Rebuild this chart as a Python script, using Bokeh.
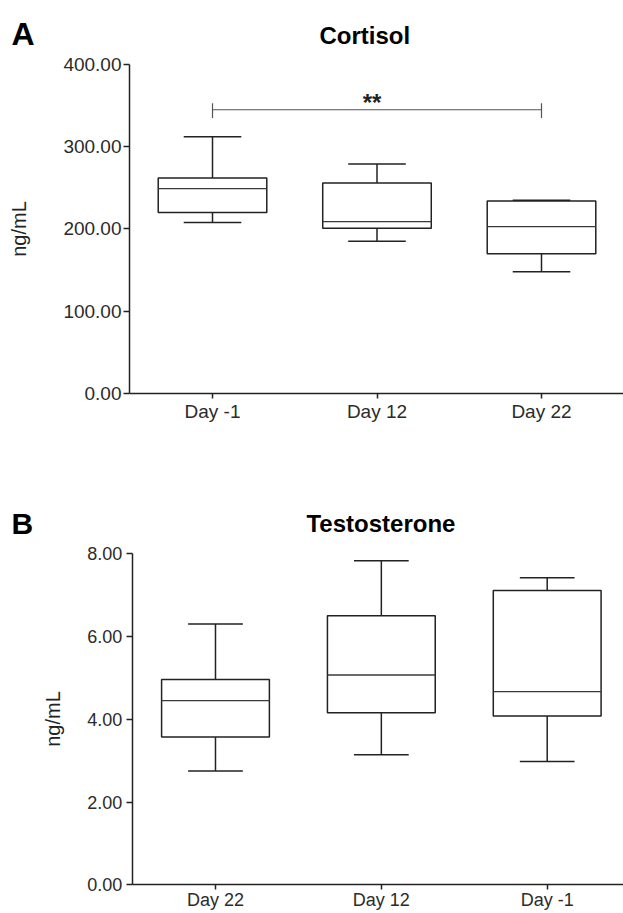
import numpy as np
from bokeh.plotting import figure
from bokeh.layouts import column
from bokeh.models import ColumnDataSource, Range1d, FixedTicker, PrintfTickFormatter
from bokeh.core.properties import value
from bokeh.embed import file_html
from bokeh.resources import INLINE

# ---------------- data ----------------
cortisol_days = ["Day -1", "Day 12", "Day 22"]
cortisol_min = [208, 185, 148]
cortisol_q1 = [220, 201, 170]
cortisol_median = [249, 209, 203]
cortisol_q3 = [262, 256, 234]
cortisol_max = [312, 279, 235]
cortisol_ticks = [0, 100, 200, 300, 400]
cortisol_sig = ["Day -1", "Day 22"]
cortisol_sig_level = 345
cortisol_sig_text = "**"

testosterone_days = ["Day 22", "Day 12", "Day -1"]
testosterone_min = [2.75, 3.14, 2.98]
testosterone_q1 = [3.57, 4.16, 4.08]
testosterone_median = [4.45, 5.07, 4.67]
testosterone_q3 = [4.96, 6.50, 7.11]
testosterone_max = [6.30, 7.83, 7.42]
testosterone_ticks = [0, 2, 4, 6, 8]

panel_letters = ["A", "B"]
panel_titles = ["Cortisol", "Testosterone"]
y_label = "ng/mL"

FONT = "Liberation Sans"
INK = "#222222"
TXT = "#2b2b2b"
W = 623


def make_panel(days, lo, q1, med, q3, hi, ticks, x_range, y_range, height,
               axis_x, box_w, cap_w, tick_font, y_label_standoff, y_tick_standoff,
               x_tick_standoff):
    p = figure(width=W, height=height, x_range=x_range, y_range=y_range,
               output_backend="svg", toolbar_location=None, title=None, min_border=0)
    p.outline_line_color = None
    p.xgrid.visible = False
    p.ygrid.visible = False
    p.background_fill_color = "white"
    p.border_fill_color = "white"

    x = np.arange(len(days), dtype=float)
    src = ColumnDataSource(dict(
        x=x, lo=lo, q1=q1, med=med, q3=q3, hi=hi,
        bl=x - box_w / 2, br=x + box_w / 2,
        cl=x - cap_w / 2, cr=x + cap_w / 2,
    ))
    # whiskers
    p.segment(x0="x", x1="x", y0="q3", y1="hi", source=src, line_color=INK, line_width=1.5)
    p.segment(x0="x", x1="x", y0="q1", y1="lo", source=src, line_color=INK, line_width=1.5)
    p.segment(x0="cl", x1="cr", y0="hi", y1="hi", source=src, line_color=INK, line_width=1.5)
    p.segment(x0="cl", x1="cr", y0="lo", y1="lo", source=src, line_color=INK, line_width=1.5)
    # boxes
    p.quad(left="bl", right="br", bottom="q1", top="q3", source=src,
           fill_color="white", line_color=INK, line_width=1.5)
    # medians
    p.segment(x0="bl", x1="br", y0="med", y1="med", source=src, line_color="#3a3a3a", line_width=1.3)

    # axes (drawn at fixed locations inside a full-canvas frame)
    for ax in (p.xaxis[0], p.yaxis[0]):
        ax.axis_line_color = INK
        ax.axis_line_width = 1.5
        ax.major_tick_line_color = INK
        ax.major_tick_line_width = 1.5
        ax.major_tick_in = 0
        ax.minor_tick_in = 0
        ax.minor_tick_out = 0
        ax.major_label_text_font = FONT
        ax.major_label_text_color = TXT
        ax.major_label_text_font_size = tick_font
    p.xaxis.fixed_location = ticks[0]
    p.xaxis.bounds = (axis_x, x_range.end)
    p.yaxis.fixed_location = axis_x
    p.yaxis.bounds = (ticks[0], ticks[-1])
    p.xaxis.major_tick_out = 5
    p.yaxis.major_tick_out = 6
    p.xaxis.ticker = FixedTicker(ticks=list(range(len(days))))
    p.xaxis.major_label_overrides = {i: d for i, d in enumerate(days)}
    p.xaxis.major_label_standoff = x_tick_standoff
    p.yaxis.ticker = FixedTicker(ticks=ticks)
    p.yaxis.formatter = PrintfTickFormatter(format="%.2f")
    p.yaxis.major_label_standoff = y_tick_standoff
    p.yaxis.axis_label = y_label
    p.yaxis.axis_label_text_font = FONT
    p.yaxis.axis_label_text_font_style = "normal"
    p.yaxis.axis_label_text_font_size = "20px"
    p.yaxis.axis_label_text_color = INK
    p.yaxis.axis_label_standoff = y_label_standoff
    return p


def header(p, letter, letter_size, letter_xy, title, title_xy):
    p.text(x=[letter_xy[0]], y=[letter_xy[1]], text=[letter], text_font=value(FONT),
           text_font_style="bold", text_font_size=letter_size, text_align="left",
           text_baseline="alphabetic", text_color="black")
    p.text(x=[title_xy[0]], y=[title_xy[1]], text=[title], text_font=value(FONT),
           text_font_style="bold", text_font_size="24px", text_align="left",
           text_baseline="alphabetic", text_color="black")


# ---------------- panel A : cortisol ----------------
pa = make_panel(cortisol_days, cortisol_min, cortisol_q1, cortisol_median, cortisol_q3,
                cortisol_max, cortisol_ticks, Range1d(-1.2888, 2.4985), Range1d(-57.14, 477.8),
                440, -0.5046, 0.66, 0.35, "19px", 30, 2, 2)

i0 = cortisol_days.index(cortisol_sig[0])
i1 = cortisol_days.index(cortisol_sig[1])
pa.segment(x0=[i0], x1=[i1], y0=[cortisol_sig_level], y1=[cortisol_sig_level],
           line_color="#555555", line_width=1.2)
pa.segment(x0=[i0, i1], x1=[i0, i1], y0=[cortisol_sig_level - 10] * 2,
           y1=[cortisol_sig_level + 8] * 2, line_color="#555555", line_width=1.2)
pa.text(x=[(i0 + i1) / 2 - 0.03], y=[cortisol_sig_level + 9], text=[cortisol_sig_text],
        text_font=value(FONT), text_font_size="24px", text_font_style="bold",
        text_align="center", text_baseline="alphabetic", text_color=INK)
header(pa, panel_letters[0], "32px", (-1.2219, 437.3), panel_titles[0], (0.6505, 435.3))

# ---------------- panel B : testosterone ----------------
pb = make_panel(testosterone_days, testosterone_min, testosterone_q1, testosterone_median,
                testosterone_q3, testosterone_max, testosterone_ticks,
                Range1d(-1.2963, 2.4601), Range1d(-0.694, 10.738), 473,
                -0.5023, 0.65, 0.33, "18px", 20, 4, 0)
header(pb, panel_letters[1], "30px", (-1.230, 8.725), panel_titles[1], (0.5487, 8.725))

layout = column(pa, pb, spacing=0)
open("out.html", "w").write(file_html(layout, INLINE))
